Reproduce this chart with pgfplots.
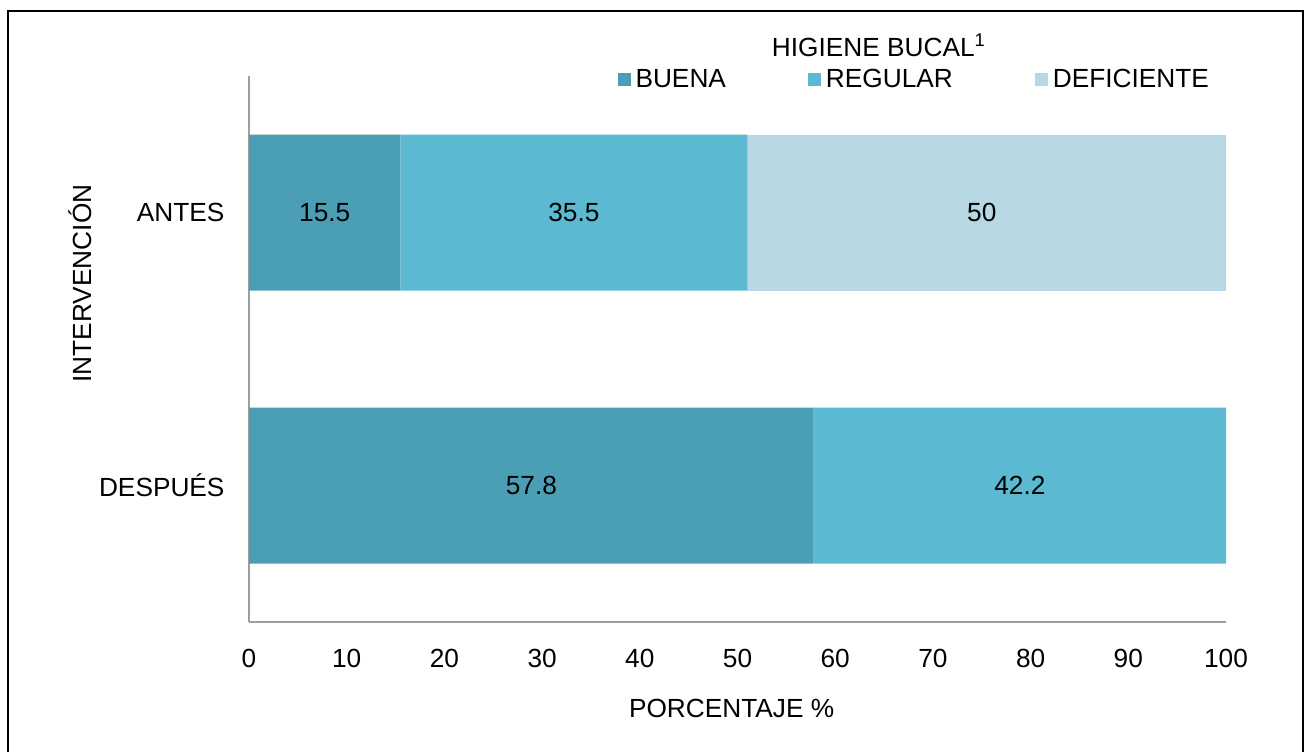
\documentclass[border=0pt]{standalone}
\usepackage{fontspec}
\setmainfont{Liberation Sans}
\usepackage{pgfplots}
\usepackage{pgfplotstable}
\pgfplotsset{compat=1.18}
\definecolor{cbuena}{HTML}{4A9FB4}
\definecolor{cregular}{HTML}{5BB9D1}
\definecolor{cdef}{HTML}{B7D7E2}
\newcommand{\myfont}{\fontsize{10.5pt}{12.6pt}\selectfont}
\pgfplotstableread{
y v
1 15.5
0 57.8
}\buena
\pgfplotstableread{
y v
1 35.5
0 42.2
}\regular
\pgfplotstableread{
y v
1 50
}\deficiente
\begin{document}
\begin{tikzpicture}[font=\myfont]
\useasboundingbox (0,0) rectangle (524pt,300.4pt);
\draw[line width=0.8pt] (3.2pt,-5pt) -- (3.2pt,296pt) -- (521.2pt,296pt) -- (521.2pt,-5pt);
\begin{axis}[
  at={(99.6pt,51.6pt)}, anchor=south west,
  scale only axis, width=390.8pt, height=218.4pt,
  xbar stacked, bar width=62.4pt,
  xmin=0, xmax=100, ymin=-0.5, ymax=1.5,
  xtick={0,10,...,100}, ytick={0,1}, yticklabels={DESPUÉS,ANTES},
  axis lines*=left,
  axis line style={draw=black!38, line width=0.8pt},
  major tick style={draw=none},
  /pgf/number format/assume math mode=true,
  every tick label/.append style={font=\myfont},
  xticklabel style={anchor=center, inner sep=0pt, yshift=-14.4pt},
  yticklabel style={anchor=east, inner sep=0pt, xshift=-9.6pt},
  xlabel={PORCENTAJE \%},
  xlabel style={at={(axis description cs:0.494,0)}, anchor=center, yshift=-34.4pt, font=\myfont},
  ylabel={INTERVENCIÓN},
  ylabel style={at={(axis description cs:-0.173,0.62)}, anchor=center, font=\myfont},
  legend columns=3,
  legend style={at={(axis description cs:0.3767,0.9927)}, anchor=west, draw=none, fill=none,
    inner sep=0pt, font=\myfont, nodes={inner sep=0pt},
    /tikz/every odd column/.append style={column sep=2pt},
    /tikz/every even column/.append style={column sep=32.8pt}},
  legend image code/.code={\fill[#1] (0pt,-2.6pt) rectangle (5.2pt,2.6pt);},
]
\addplot[fill=cbuena, draw=none] table[x=v, y=y] {\buena};
\addplot[fill=cregular, draw=none] table[x=v, y=y] {\regular};
\addplot[fill=cdef, draw=none] table[x=v, y=y] {\deficiente};
\legend{BUENA, REGULAR, DEFICIENTE}
\coordinate (l1) at (axis cs:7.75,1);
\coordinate (l2) at (axis cs:33.25,1);
\coordinate (l3) at (axis cs:75,1);
\coordinate (l4) at (axis cs:28.9,0);
\coordinate (l5) at (axis cs:78.9,0);
\end{axis}
\node at (l1) {15.5};
\node at (l2) {35.5};
\node at (l3) {50};
\node at (l4) {57.8};
\node at (l5) {42.2};
\node at (351.6pt,282.4pt) {HIGIENE BUCAL\textsuperscript{1}};
\end{tikzpicture}
\end{document}
